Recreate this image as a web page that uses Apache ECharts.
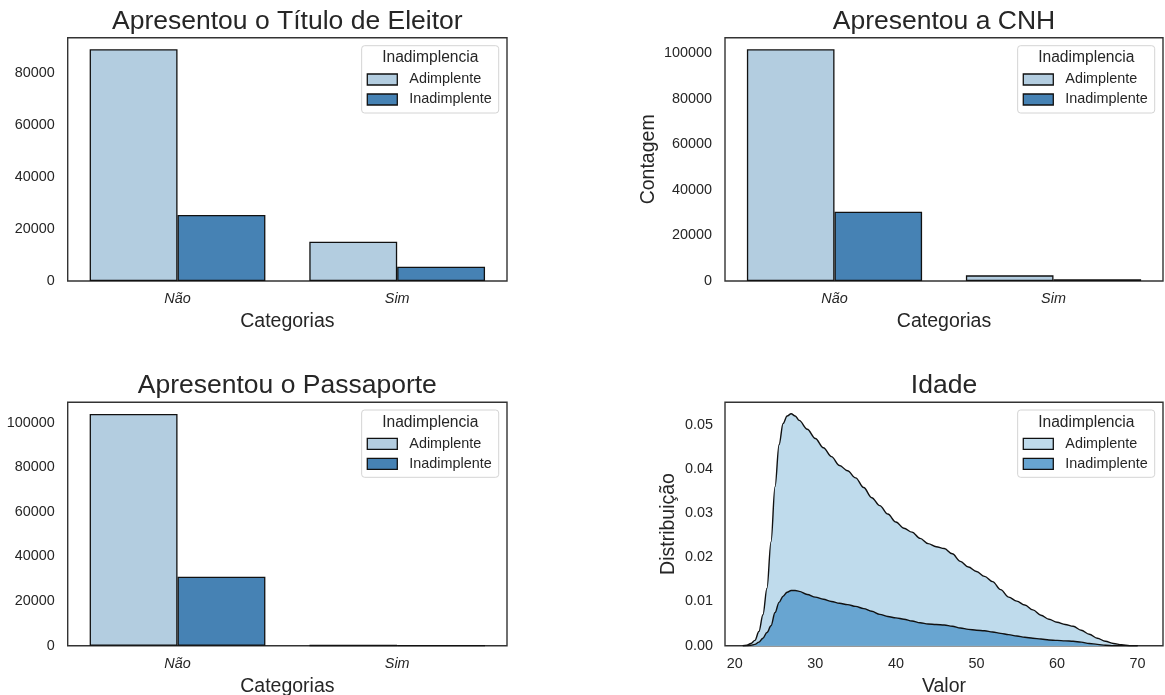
<!DOCTYPE html>
<html>
<head>
<meta charset="utf-8">
<script src="https://cdn.jsdelivr.net/npm/echarts@6.0.0/dist/echarts.min.js"></script>
<style>
  html, body { margin: 0; padding: 0; background: #ffffff; }
  #chart { width: 1165px; height: 695px; }
</style>
</head>
<body>
<div id="chart"></div>
<script>
// ---- Dados ----
const categorias = ['Não', 'Sim'];
const grupos = ['Adimplente', 'Inadimplente'];

const tituloAdimplente = [89290, 15150];
const tituloInadimplente = [25430, 5510];

const cnhAdimplente = [101760, 2490];
const cnhInadimplente = [30450, 730];

const passaporteAdimplente = [103880, 160];
const passaporteInadimplente = [30900, 40];

// Densidade da idade (curvas empilhadas): contorno superior e camada inferior
const idadeValores = [21, 21.5, 22, 22.5, 23, 23.5, 24, 24.5, 25, 25.5, 26, 26.5, 27, 27.5, 28,
  29, 30, 31, 32, 33, 34, 35, 36, 37, 38, 39, 40, 41, 42, 43, 44, 45, 46, 47, 48, 49,
  50, 51, 52, 53, 54, 55, 56, 57, 58, 59, 60, 61, 62, 63, 64, 65, 66, 67, 68, 69, 70];
const densidadeEmpilhada = [0, 0.0001, 0.0005, 0.0012, 0.0032, 0.007, 0.013, 0.0235, 0.036, 0.0455,
  0.0503, 0.052, 0.0525, 0.052, 0.051,
  0.049, 0.0469, 0.0448, 0.0428, 0.0408, 0.0396, 0.038, 0.0358, 0.0335, 0.0317, 0.0298,
  0.028, 0.0266, 0.0257, 0.0243, 0.0231, 0.0224, 0.022, 0.0208, 0.0191, 0.0178,
  0.0168, 0.0157, 0.0145, 0.0127, 0.011, 0.0101, 0.0092, 0.0081, 0.0069, 0.006,
  0.0053, 0.0048, 0.0044, 0.0035, 0.0026, 0.0017, 0.001, 0.0005, 0.0002, 0, 0];
const densidadeInadimplente = [0, 0, 0.0001, 0.0003, 0.0008, 0.0017, 0.003, 0.0045, 0.0075, 0.0098,
  0.0112, 0.0121, 0.0125, 0.0125, 0.0123,
  0.0116, 0.011, 0.0105, 0.01, 0.0096, 0.0093, 0.0089, 0.0084, 0.0078, 0.0071, 0.0066,
  0.0063, 0.006, 0.0056, 0.0052, 0.0049, 0.0048, 0.0047, 0.0044, 0.004, 0.0037,
  0.0035, 0.0034, 0.0031, 0.0028, 0.0025, 0.0022, 0.0019, 0.0017, 0.0015, 0.0013,
  0.0012, 0.0011, 0.001, 0.0008, 0.0005, 0.0003, 0.0001, 0, 0, 0, 0];

const idadeLimites = [18.79, 73.15];
const densidadeMax = 0.0551;

// ---- Estilo ----
const FONT = '"Liberation Sans", Arial, Helvetica, sans-serif';
const INK = '#262626';
const barColors = ['#b3cde0', '#4682b4'];
const kdeColors = ['#bfdbec', '#68a5d1'];
const EDGE = '#111111';

const grids = [
  { left: 67.7, top: 37.7, width: 439.3, height: 243.3 },
  { left: 725, top: 37.7, width: 438, height: 243.3 },
  { left: 67.7, top: 402.3, width: 439.3, height: 243.4 },
  { left: 725, top: 402.3, width: 438, height: 243.4 }
].map(g => Object.assign({
  show: true, borderColor: '#333333', borderWidth: 1.4, backgroundColor: '#ffffff',
  containLabel: false, outerBoundsMode: 'none'
}, g));

const tickLabel = { color: INK, fontFamily: FONT, fontSize: 14.4 };
const axisNameStyle = { color: INK, fontFamily: FONT, fontSize: 19.5 };
const hidden = { axisLine: { show: false }, axisTick: { show: false }, splitLine: { show: false } };

function barYAxis(gi, a, b, name) {
  const ax = Object.assign({
    type: 'value', gridIndex: gi, min: 0,
    max: Math.max(...a, ...b) * 1.05, interval: 20000,
    axisLabel: Object.assign({ margin: 13, formatter: v => (v % 20000 === 0 ? String(v) : '') }, tickLabel)
  }, hidden);
  if (name) {
    ax.name = name; ax.nameLocation = 'middle'; ax.nameGap = 66; ax.nameTextStyle = axisNameStyle;
  }
  return ax;
}
function catXAxis(gi) {
  return Object.assign({
    type: 'category', gridIndex: gi, data: categorias,
    axisLabel: Object.assign({ margin: 11, fontStyle: 'italic' }, tickLabel),
    name: 'Categorias', nameLocation: 'middle', nameGap: 31, nameTextStyle: axisNameStyle
  }, hidden);
}
function barSeries(gi, vals, k) {
  return {
    type: 'bar', name: grupos[k], xAxisIndex: gi, yAxisIndex: gi, data: vals,
    barWidth: '40%', barGap: '0%',
    itemStyle: { color: barColors[k], borderColor: EDGE, borderWidth: 1.3 },
    emphasis: { disabled: true }
  };
}
function kdeSeries(vals, k) {
  return {
    type: 'line', name: grupos[k], xAxisIndex: 3, yAxisIndex: 3,
    data: idadeValores.map((x, i) => [x, vals[i]]),
    showSymbol: false, symbol: 'none', smooth: 0.35, smoothMonotone: 'x',
    lineStyle: { color: EDGE, width: 1.4 },
    itemStyle: { color: kdeColors[k] },
    areaStyle: { color: kdeColors[k], opacity: 1 },
    emphasis: { disabled: true }, z: 2 + k
  };
}
function legendAt(right, top, colors) {
  return {
    right: right, top: top, orient: 'vertical', selectedMode: false,
    itemWidth: 30, itemHeight: 11, itemGap: 6,
    padding: [26.8, 7, 6.5, 5],
    backgroundColor: 'rgba(255,255,255,0.85)', borderColor: '#d4d4d4', borderWidth: 1, borderRadius: 3,
    textStyle: { color: INK, fontFamily: FONT, fontSize: 14.4, lineHeight: 11, padding: [0, 0, 0, 7] },
    data: grupos.map((g, k) => ({
      name: g, icon: 'rect',
      itemStyle: { color: colors[k], borderColor: EDGE, borderWidth: 1.3 }
    }))
  };
}
function textAt(x, y, text, size) {
  return {
    type: 'text', x: x, y: y, silent: true, z: 100,
    style: { text: text, fill: INK, font: size + 'px ' + FONT, align: 'center', verticalAlign: 'middle' }
  };
}

const option = {
  animation: false,
  backgroundColor: '#ffffff',
  grid: grids,
  xAxis: [
    catXAxis(0), catXAxis(1), catXAxis(2),
    Object.assign({
      type: 'value', gridIndex: 3, min: idadeLimites[0], max: idadeLimites[1],
      axisLabel: Object.assign({ margin: 11, formatter: v => (Math.abs(v % 10) < 1e-6 ? String(v) : '') }, tickLabel),
      name: 'Valor', nameLocation: 'middle', nameGap: 31, nameTextStyle: axisNameStyle
    }, hidden)
  ],
  yAxis: [
    barYAxis(0, tituloAdimplente, tituloInadimplente),
    barYAxis(1, cnhAdimplente, cnhInadimplente, 'Contagem'),
    barYAxis(2, passaporteAdimplente, passaporteInadimplente),
    Object.assign({
      type: 'value', gridIndex: 3, min: 0, max: densidadeMax, interval: 0.01,
      axisLabel: Object.assign({ margin: 12, formatter: v => (Math.abs(v * 100 - Math.round(v * 100)) < 1e-6 ? v.toFixed(2) : '') }, tickLabel),
      name: 'Distribuição', nameLocation: 'middle', nameGap: 46, nameTextStyle: axisNameStyle
    }, hidden)
  ],
  legend: [
    legendAt(1165 - 498.7, 45.7, barColors),
    legendAt(1165 - 1154.7, 45.7, barColors),
    legendAt(1165 - 498.7, 410, barColors),
    legendAt(1165 - 1154.7, 410, kdeColors)
  ],
  graphic: [
    textAt(287.3, 21.5, 'Apresentou o Título de Eleitor', 26.5),
    textAt(944, 21.5, 'Apresentou a CNH', 26.5),
    textAt(287.3, 386, 'Apresentou o Passaporte', 26.5),
    textAt(944, 386, 'Idade', 26.5),
    textAt(430.3, 58, 'Inadimplencia', 15.6),
    textAt(1086.3, 58, 'Inadimplencia', 15.6),
    textAt(430.3, 422.5, 'Inadimplencia', 15.6),
    textAt(1086.3, 422.5, 'Inadimplencia', 15.6)
  ],
  series: [
    barSeries(0, tituloAdimplente, 0), barSeries(0, tituloInadimplente, 1),
    barSeries(1, cnhAdimplente, 0), barSeries(1, cnhInadimplente, 1),
    barSeries(2, passaporteAdimplente, 0), barSeries(2, passaporteInadimplente, 1),
    kdeSeries(densidadeEmpilhada, 0), kdeSeries(densidadeInadimplente, 1)
  ]
};

const chart = echarts.init(document.getElementById('chart'), null, { renderer: 'canvas' });
chart.setOption(option);
</script>
</body>
</html>
